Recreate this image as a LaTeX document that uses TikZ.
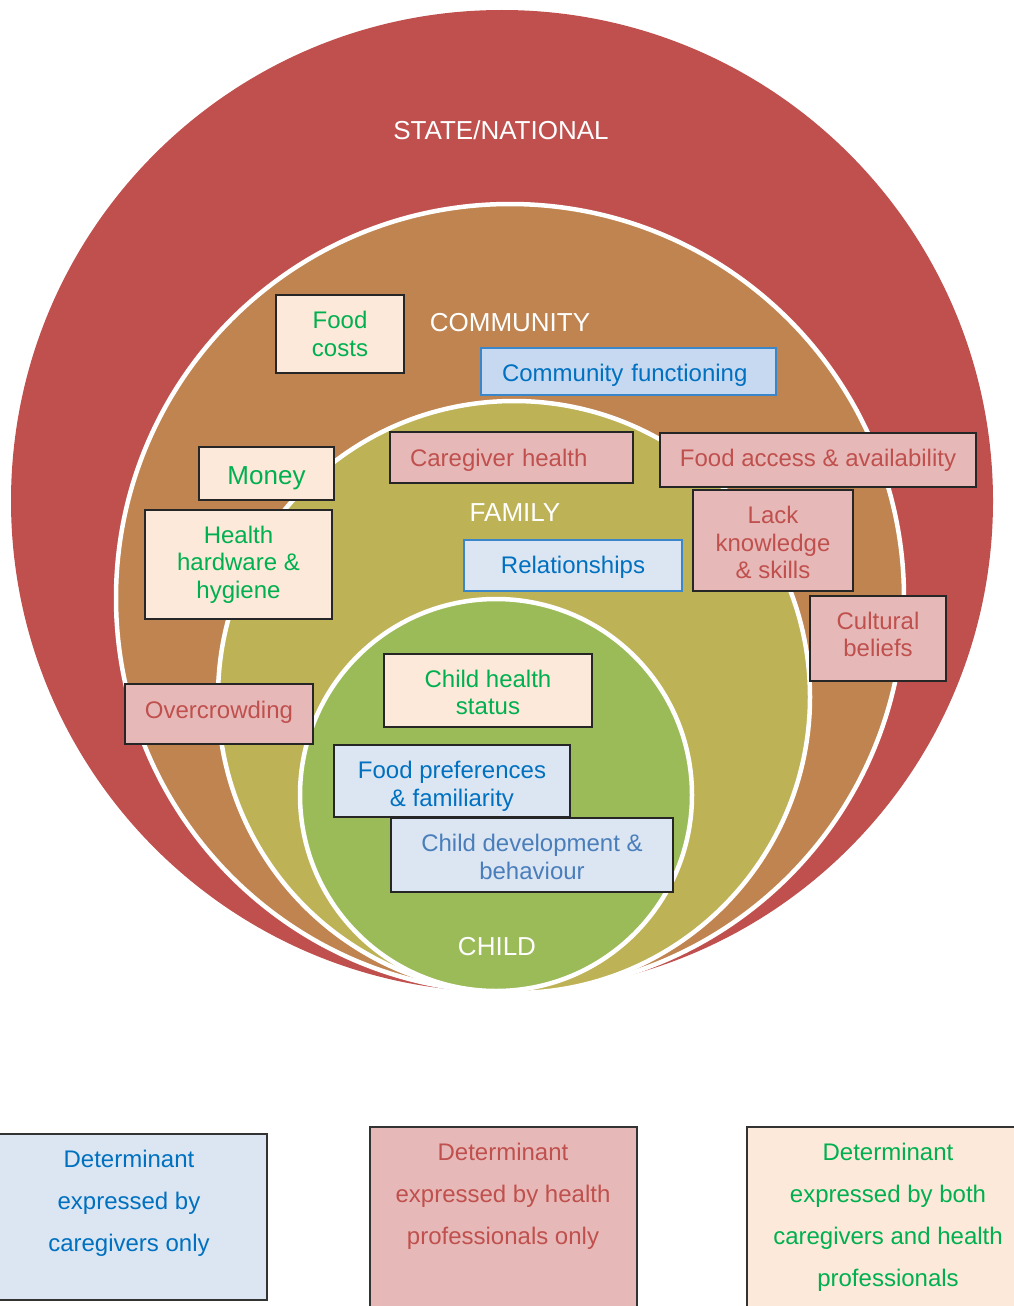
\documentclass[tikz,border=0pt]{standalone}
\usepackage{fontspec}
\setmainfont{Liberation Sans}

% layer fills
\definecolor{statefill}{HTML}{C0504D}
\definecolor{commfill}{HTML}{BF8450}
\definecolor{famfill}{HTML}{BEB257}
\definecolor{childfill}{HTML}{9BBB59}
% determinant boxes
\definecolor{peachfill}{HTML}{FDE9D9}
\definecolor{pinkfill}{HTML}{E6B9B8}
\definecolor{bluefill}{HTML}{DCE6F2}
\definecolor{bluefilldark}{HTML}{C6D9F1}
\definecolor{detgreen}{HTML}{00B050}
\definecolor{detred}{HTML}{C0504D}
\definecolor{detblue}{HTML}{0070C0}
\definecolor{detbluesoft}{HTML}{4A7EBB}
\definecolor{blueedge}{HTML}{3A86C8}

\tikzset{
  ring/.style={draw=white, line width=4.5pt},
  det/.style={rectangle, draw=black!85, line width=1.3pt, inner sep=0pt,
    align=center, font=\fontsize{24}{27.5}\selectfont},
  both/.style={det, fill=peachfill, text=detgreen},
  hponly/.style={det, fill=pinkfill, text=detred},
  cgonly/.style={det, fill=bluefill, text=detblue},
  cgedge/.style={cgonly, draw=blueedge},
  layerlabel/.style={text=white, inner sep=0pt, font=\fontsize{26}{30}\selectfont},
  legbox/.style={rectangle, draw=black!80, line width=1.3pt, inner sep=0pt},
  legtext/.style={inner sep=0pt, align=center, font=\fontsize{24}{42}\selectfont},
}

\begin{document}
\begin{tikzpicture}[x=1pt, y=-1pt]
\useasboundingbox (0,0) rectangle (1014,1306);

% nested levels, outermost first
\fill[statefill] (502,501) circle [radius=491pt];
\filldraw[fill=commfill, ring] (510,598) circle [radius=394pt];
\filldraw[fill=famfill, ring] (514,697) circle [radius=296pt];
\filldraw[fill=childfill, ring] (496,795) circle [radius=196pt];

% level names
\node[layerlabel] (lstate) at (501,130) {STATE/NATIONAL};
\node[layerlabel] (lcomm) at (510,323) {COMMUNITY};
\node[layerlabel] (lfam) at (515,513) {FAMILY};
\node[layerlabel] (lchild) at (497,947) {CHILD};

% community level (text height values set the text a little lower or higher in its box)
\node[both, minimum width=128pt, minimum height=78pt] (foodcosts) at (340,334) {Food\\costs};
\node[cgedge, fill=bluefilldark, minimum width=295pt, minimum height=47pt,
      text width=253pt, align=left, text height=25.5pt] (commfunc) at (628.5,371.5) {Community functioning};
\node[both, minimum width=135pt, minimum height=53pt, text height=26.5pt,
      font=\fontsize{26}{30}\selectfont] (money) at (266.5,473.5) {Money};
\node[both, minimum width=187pt, minimum height=109pt] (hardware) at (238.5,564.5) {Health\\hardware \&\\hygiene};
\node[hponly, minimum width=316pt, minimum height=54pt] (foodaccess) at (818,460) {Food access \& availability};
\node[hponly, minimum width=160pt, minimum height=101pt, text height=76.5pt] (lack) at (773,540.5) {Lack\\knowledge\\\& skills};
\node[hponly, minimum width=136pt, minimum height=85pt, text height=37pt] (cultural) at (878,638.5) {Cultural\\beliefs};
\node[hponly, minimum width=188pt, minimum height=60pt, text height=13.5pt] (overcrowd) at (219,714) {Overcrowding};

% family level
\node[hponly, minimum width=243pt, minimum height=51pt, text height=23.5pt,
      text width=203pt, align=left] (caregiver) at (511.5,457.5) {Caregiver health};
\node[cgedge, minimum width=218pt, minimum height=51pt, text height=21.5pt] (relations) at (573,565.5) {Relationships};

% child level
\node[both, minimum width=208pt, minimum height=73pt, text height=49pt] (childhealth) at (488,690.5) {Child health\\status};
\node[cgonly, minimum width=236pt, minimum height=72pt, text height=55pt] (foodpref) at (452,781) {Food preferences\\\& familiarity};
\node[cgonly, text=detbluesoft, minimum width=282pt, minimum height=74pt, text height=49pt] (childdev) at (532,855) {Child development \&\\behaviour};

% key
\node[legbox, fill=bluefill, minimum width=269pt, minimum height=166pt] (keycg) at (132.5,1217) {};
\node[legbox, fill=pinkfill, minimum width=267pt, minimum height=185pt] (keyhp) at (503.5,1219.5) {};
\node[legbox, fill=peachfill, minimum width=273pt, minimum height=185pt] (keyboth) at (883.5,1219.5) {};
\node[legtext, text=detblue] (keycgtext) at (129,1203) {Determinant\\expressed by\\caregivers only};
\node[legtext, text=detred] (keyhptext) at (503,1196) {Determinant\\expressed by health\\professionals only};
\node[legtext, text=detgreen] (keybothtext) at (888,1217) {Determinant\\expressed by both\\caregivers and health\\professionals};
\end{tikzpicture}
\end{document}
